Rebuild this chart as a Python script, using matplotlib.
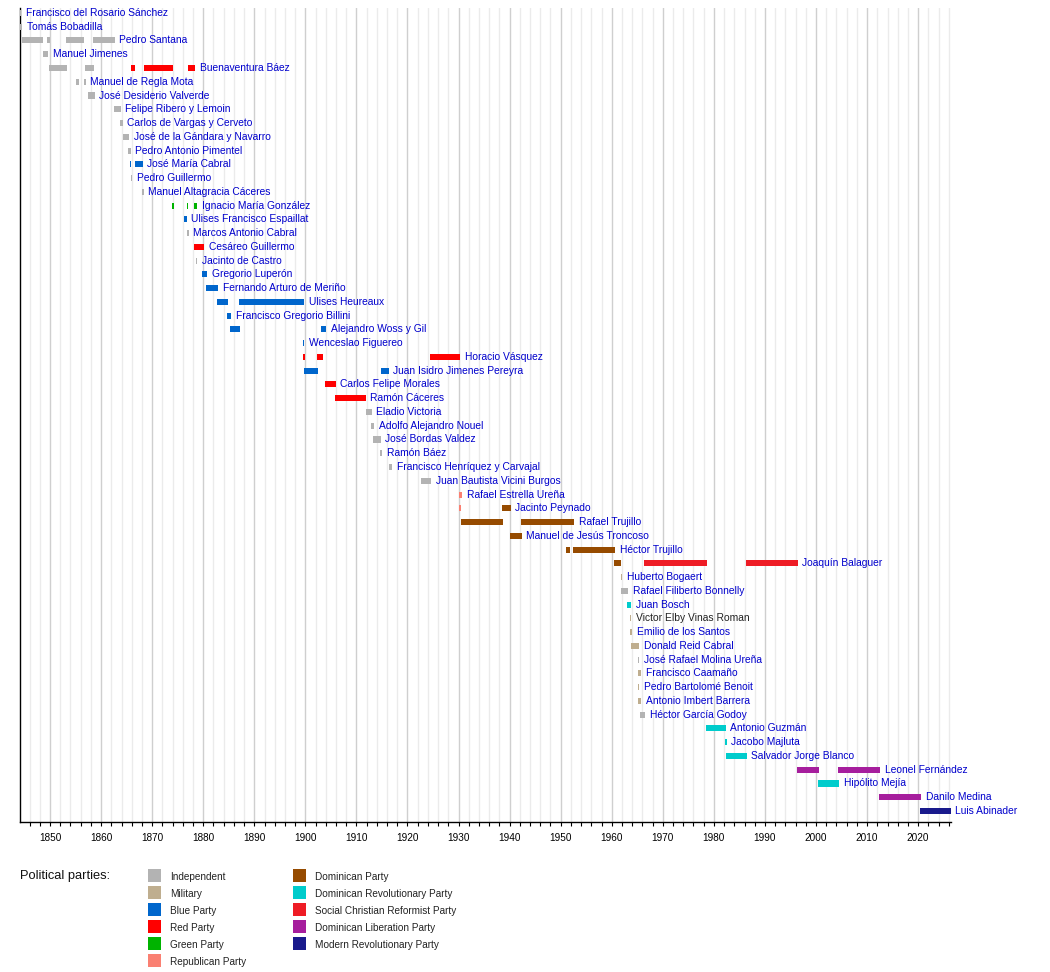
import matplotlib
matplotlib.use("Agg")
import matplotlib.pyplot as plt
from matplotlib.patches import Rectangle
from matplotlib.ticker import MultipleLocator

plt.rcParams['font.family'] = ['Liberation Sans', 'DejaVu Sans']

# parties and their colours (legend order)
parties = ['Independent', 'Military', 'Blue Party', 'Red Party', 'Green Party',
           'Republican Party', 'Dominican Party', 'Dominican Revolutionary Party',
           'Social Christian Reformist Party', 'Dominican Liberation Party',
           'Modern Revolutionary Party']
party_colors = ['#b3b3b3', '#bfae8f', '#0066cc', '#ff0000', '#00b300',
                '#fa8072', '#964b00', '#00cccc', '#ee1c25', '#a61e9d', '#191a8c']

# one row per president, top to bottom
presidents = [
    'Francisco del Rosario Sánchez', 'Tomás Bobadilla', 'Pedro Santana',
    'Manuel Jimenes', 'Buenaventura Báez', 'Manuel de Regla Mota',
    'José Desiderio Valverde', 'Felipe Ribero y Lemoin', 'Carlos de Vargas y Cerveto',
    'José de la Gándara y Navarro', 'Pedro Antonio Pimentel', 'José María Cabral',
    'Pedro Guillermo', 'Manuel Altagracia Cáceres', 'Ignacio María González',
    'Ulises Francisco Espaillat', 'Marcos Antonio Cabral', 'Cesáreo Guillermo',
    'Jacinto de Castro', 'Gregorio Luperón', 'Fernando Arturo de Meriño',
    'Ulises Heureaux', 'Francisco Gregorio Billini', 'Alejandro Woss y Gil',
    'Wenceslao Figuereo', 'Horacio Vásquez', 'Juan Isidro Jimenes Pereyra',
    'Carlos Felipe Morales', 'Ramón Cáceres', 'Eladio Victoria',
    'Adolfo Alejandro Nouel', 'José Bordas Valdez', 'Ramón Báez',
    'Francisco Henríquez y Carvajal', 'Juan Bautista Vicini Burgos',
    'Rafael Estrella Ureña', 'Jacinto Peynado', 'Rafael Trujillo',
    'Manuel de Jesús Troncoso', 'Héctor Trujillo', 'Joaquín Balaguer',
    'Huberto Bogaert', 'Rafael Filiberto Bonnelly', 'Juan Bosch',
    'Victor Elby Vinas Roman', 'Emilio de los Santos', 'Donald Reid Cabral',
    'José Rafael Molina Ureña', 'Francisco Caamaño', 'Pedro Bartolomé Benoit',
    'Antonio Imbert Barrera', 'Héctor García Godoy', 'Antonio Guzmán',
    'Jacobo Majluta', 'Salvador Jorge Blanco', 'Leonel Fernández',
    'Hipólito Mejía', 'Danilo Medina', 'Luis Abinader',
]
unlinked = ['Victor Elby Vinas Roman']

# terms in office (decimal years)
term_president = [
    'Francisco del Rosario Sánchez', 'Tomás Bobadilla',
    'Pedro Santana', 'Pedro Santana', 'Pedro Santana', 'Pedro Santana',
    'Manuel Jimenes',
    'Buenaventura Báez', 'Buenaventura Báez', 'Buenaventura Báez',
    'Buenaventura Báez', 'Buenaventura Báez',
    'Manuel de Regla Mota', 'Manuel de Regla Mota',
    'José Desiderio Valverde', 'Felipe Ribero y Lemoin', 'Carlos de Vargas y Cerveto',
    'José de la Gándara y Navarro', 'Pedro Antonio Pimentel',
    'José María Cabral', 'José María Cabral',
    'Pedro Guillermo', 'Manuel Altagracia Cáceres',
    'Ignacio María González', 'Ignacio María González', 'Ignacio María González',
    'Ulises Francisco Espaillat', 'Marcos Antonio Cabral', 'Cesáreo Guillermo',
    'Jacinto de Castro', 'Gregorio Luperón', 'Fernando Arturo de Meriño',
    'Ulises Heureaux', 'Ulises Heureaux',
    'Francisco Gregorio Billini',
    'Alejandro Woss y Gil', 'Alejandro Woss y Gil',
    'Wenceslao Figuereo',
    'Horacio Vásquez', 'Horacio Vásquez', 'Horacio Vásquez',
    'Juan Isidro Jimenes Pereyra', 'Juan Isidro Jimenes Pereyra',
    'Carlos Felipe Morales', 'Ramón Cáceres', 'Eladio Victoria',
    'Adolfo Alejandro Nouel', 'José Bordas Valdez', 'Ramón Báez',
    'Francisco Henríquez y Carvajal', 'Juan Bautista Vicini Burgos',
    'Rafael Estrella Ureña', 'Jacinto Peynado', 'Jacinto Peynado',
    'Rafael Trujillo', 'Rafael Trujillo',
    'Manuel de Jesús Troncoso',
    'Héctor Trujillo', 'Héctor Trujillo',
    'Joaquín Balaguer', 'Joaquín Balaguer', 'Joaquín Balaguer',
    'Huberto Bogaert', 'Rafael Filiberto Bonnelly', 'Juan Bosch',
    'Victor Elby Vinas Roman', 'Emilio de los Santos', 'Donald Reid Cabral',
    'José Rafael Molina Ureña', 'Francisco Caamaño', 'Pedro Bartolomé Benoit',
    'Antonio Imbert Barrera', 'Héctor García Godoy', 'Antonio Guzmán',
    'Jacobo Majluta', 'Salvador Jorge Blanco',
    'Leonel Fernández', 'Leonel Fernández',
    'Hipólito Mejía', 'Danilo Medina', 'Luis Abinader',
]
term_start = [
    1844.16, 1844.17,
    1844.52, 1849.50, 1853.19, 1858.42,
    1848.63,
    1849.80, 1856.90, 1865.86, 1868.40, 1877.08,
    1855.15, 1856.66,
    1857.44, 1862.53, 1863.71,
    1864.29, 1865.27,
    1865.66, 1866.64,
    1865.83, 1868.05,
    1873.89, 1876.74, 1878.26,
    1876.24, 1876.83, 1878.20,
    1878.59, 1879.76, 1880.55,
    1882.70, 1887.00,
    1884.72,
    1885.25, 1903.13,
    1899.50,
    1899.54, 1902.28, 1924.40,
    1899.74, 1914.87,
    1903.85, 1905.80, 1911.88,
    1912.86, 1913.25, 1914.56,
    1916.32, 1922.65,
    1930.09, 1930.10, 1938.50,
    1930.48, 1942.23,
    1940.07,
    1951.04, 1952.41,
    1960.44, 1966.31, 1986.28,
    1961.74, 1961.74, 1962.98,
    1963.50, 1963.57, 1963.77,
    1965.12, 1965.20, 1965.18,
    1965.20, 1965.59, 1978.51,
    1982.23, 1982.43,
    1996.27, 2004.36,
    2000.38, 2012.38, 2020.40,
]
term_end = [
    1844.38, 1844.50,
    1848.65, 1849.95, 1856.60, 1862.67,
    1849.60,
    1853.33, 1858.56, 1866.58, 1874.08, 1878.39,
    1855.74, 1856.99,
    1858.75, 1863.84, 1864.23,
    1865.53, 1865.80,
    1865.92, 1868.15,
    1866.10, 1868.31,
    1874.22, 1876.98, 1878.84,
    1876.76, 1877.16, 1880.15,
    1878.84, 1880.74, 1882.90,
    1884.85, 1899.74,
    1885.50,
    1887.20, 1904.04,
    1899.76,
    1899.93, 1903.46, 1930.28,
    1902.48, 1916.32,
    1905.94, 1911.82, 1912.99,
    1913.44, 1914.75, 1915.01,
    1916.97, 1924.60,
    1930.68, 1930.45, 1940.20,
    1938.70, 1952.60,
    1942.36,
    1951.82, 1960.63,
    1961.81, 1978.65, 1996.40,
    1962.00, 1963.23, 1963.83,
    1963.76, 1963.96, 1965.33,
    1965.37, 1965.72, 1965.43,
    1965.72, 1966.51, 1982.31,
    1982.50, 1986.42,
    2000.52, 2012.58,
    2004.49, 2020.60, 2026.37,
]
term_party = [
    'Independent', 'Independent',
    'Independent', 'Independent', 'Independent', 'Independent',
    'Independent',
    'Independent', 'Independent', 'Red Party', 'Red Party', 'Red Party',
    'Independent', 'Independent',
    'Independent', 'Independent', 'Independent',
    'Independent', 'Independent',
    'Blue Party', 'Blue Party',
    'Independent', 'Independent',
    'Green Party', 'Green Party', 'Green Party',
    'Blue Party', 'Independent', 'Red Party',
    'Independent', 'Blue Party', 'Blue Party',
    'Blue Party', 'Blue Party',
    'Blue Party',
    'Blue Party', 'Blue Party',
    'Blue Party',
    'Red Party', 'Red Party', 'Red Party',
    'Blue Party', 'Blue Party',
    'Red Party', 'Red Party', 'Independent',
    'Independent', 'Independent', 'Independent',
    'Independent', 'Independent',
    'Republican Party', 'Republican Party', 'Dominican Party',
    'Dominican Party', 'Dominican Party',
    'Dominican Party',
    'Dominican Party', 'Dominican Party',
    'Dominican Party', 'Social Christian Reformist Party', 'Social Christian Reformist Party',
    'Military', 'Independent', 'Dominican Revolutionary Party',
    'Military', 'Military', 'Military',
    'Independent', 'Military', 'Military',
    'Military', 'Independent', 'Dominican Revolutionary Party',
    'Dominican Revolutionary Party', 'Dominican Revolutionary Party',
    'Dominican Liberation Party', 'Dominican Liberation Party',
    'Dominican Revolutionary Party', 'Dominican Liberation Party',
    'Modern Revolutionary Party',
]

color_of = dict(zip(parties, party_colors))

fig = plt.figure(figsize=(10.5, 9.72), dpi=100)
ax = fig.add_axes([0.01933, 0.15432, 0.88610, 0.83745])

rows = [presidents.index(p) for p in term_president]
widths = [e - s for s, e in zip(term_start, term_end)]
ax.barh(rows, widths, left=term_start, height=0.44,
        color=[color_of[p] for p in term_party], linewidth=0, zorder=3)

# name label to the right of each president's last term
for i, name in enumerate(presidents):
    last = max(e for p, e in zip(term_president, term_end) if p == name)
    ax.annotate(name, (last, i), xytext=(3.3, 0), textcoords='offset points',
                va='center', ha='left', fontsize=7.4,
                color='#222222' if name in unlinked else '#0000cc', zorder=4)

ax.set_xlim(1844.18, 2026.37)
ax.set_ylim(58.8, -0.36)
ax.xaxis.set_major_locator(MultipleLocator(10))
ax.xaxis.set_minor_locator(MultipleLocator(2))
ax.grid(axis='x', which='major', color='#cfcfcf', linewidth=1.0, zorder=0)
ax.grid(axis='x', which='minor', color='#ebebeb', linewidth=1.0, zorder=0)
ax.set_axisbelow(True)
ax.set_yticks([])
ax.tick_params(axis='x', which='both', length=3, width=0.8, direction='out',
               labelsize=7.2, pad=5, colors='black')
for s in ['top', 'right']:
    ax.spines[s].set_visible(False)
for s in ['left', 'bottom']:
    ax.spines[s].set_linewidth(1.0)
    ax.spines[s].set_color('black')

# legend drawn in pixel coordinates
leg = fig.add_axes([0, 0, 1, 1], zorder=-1)
leg.set_xlim(0, 1050)
leg.set_ylim(972, 0)
leg.axis('off')
leg.text(20.3, 876, 'Political parties:', fontsize=9.3, va='center', ha='left', color='#111111')
for k, (name, col) in enumerate(zip(parties, party_colors)):
    column, r = (0, k) if k < 6 else (1, k - 6)
    x0 = 148 if column == 0 else 293
    yc = 875.7 + 17 * r
    leg.add_patch(Rectangle((x0, yc - 6.5), 13, 13, facecolor=col, edgecolor='none'))
    leg.text(x0 + 22.3, yc + 1, name, fontsize=7.2, va='center', ha='left', color='#222222')

fig.savefig('out.png', dpi=100)
